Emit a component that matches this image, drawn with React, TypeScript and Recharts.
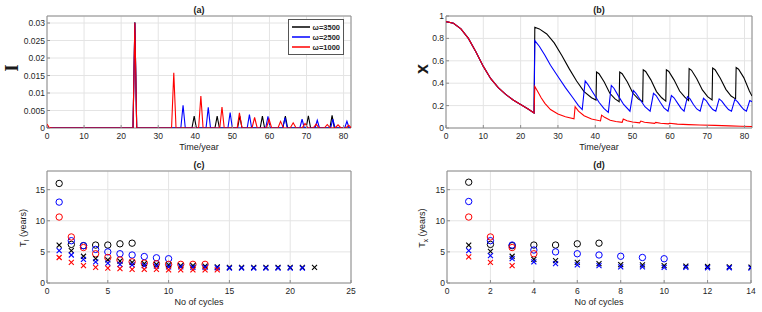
import { LineChart, Line, ScatterChart, Scatter, XAxis, YAxis, CartesianGrid, ReferenceArea, Legend } from 'recharts';

// (a) I(t): [time, value] points
const iBlack = [
  [0, 0], [23.2, 0], [23.7, 0.0302], [24.2, 0], [39.1, 0], [39.7, 0.0034], [40.3, 0],
  [45.3, 0], [45.9, 0.0034], [46.5, 0], [51.4, 0], [52.0, 0.0034], [52.6, 0],
  [57.5, 0], [58.1, 0.0034], [58.7, 0], [63.6, 0], [64.3, 0.0034], [64.9, 0],
  [69.9, 0], [70.5, 0.0035], [71.1, 0], [76.3, 0], [76.9, 0.0036], [77.5, 0], [82, 0],
];
const iBlue = [
  [0, 0], [23.2, 0], [23.7, 0.0301], [24.2, 0], [36.1, 0], [36.7, 0.0065], [37.3, 0],
  [42.9, 0], [43.5, 0.0059], [44.1, 0], [48.8, 0], [49.4, 0.0044], [50.0, 0],
  [54.0, 0], [54.6, 0.0038], [55.2, 0], [59.0, 0], [59.6, 0.0033], [60.2, 0],
  [63.6, 0], [64.2, 0.003], [64.8, 0], [68.2, 0], [68.8, 0.0025], [69.4, 0],
  [72.3, 0], [72.9, 0.0022], [73.5, 0], [76.5, 0], [77.1, 0.0025], [77.7, 0],
  [80.3, 0], [80.9, 0.0019], [81.5, 0], [82, 0],
];
const iRed = [
  [0, 0.0011], [0.6, 0.0001], [1.5, 0], [23.2, 0], [23.7, 0.0301], [24.2, 0],
  [33.6, 0], [34.2, 0.0158], [34.8, 0], [40.9, 0], [41.5, 0.0091], [42.1, 0],
  [46.6, 0], [47.2, 0.006], [47.8, 0], [51.3, 0], [51.9, 0.0043], [52.6, 0],
  [55.3, 0], [56.0, 0.003], [56.7, 0], [59.2, 0], [59.9, 0.0025], [60.6, 0],
  [62.3, 0], [63.0, 0.0019], [63.8, 0], [65.6, 0], [66.4, 0.0015], [67.2, 0],
  [68.8, 0], [69.6, 0.0013], [70.4, 0], [71.8, 0], [72.6, 0.0011], [73.4, 0],
  [74.8, 0], [75.6, 0.001], [76.4, 0], [77.7, 0], [78.5, 0.0009], [79.3, 0],
  [80.6, 0], [81.4, 0.0008], [82, 0.0001],
];

// (b) x(t): common decline before the first outbreak, then one tail per omega
const xStart = [
  [0, 0.95], [2, 0.935], [4, 0.885], [6, 0.8], [8, 0.68], [10, 0.55], [12, 0.44],
  [14, 0.36], [16, 0.3], [18, 0.25], [20, 0.21], [22, 0.17], [23.6, 0.135],
];
const xBlackTail = [
  [23.8, 0.9], [25, 0.885], [27, 0.84], [29, 0.76], [31, 0.65], [33, 0.53], [35, 0.42],
  [37, 0.325], [39, 0.27], [40.2, 0.25],
  [40.35, 0.5], [41, 0.485], [42.4, 0.41], [43.9, 0.31], [45.3, 0.26], [46.4, 0.235],
  [46.55, 0.5], [47.2, 0.485], [48.6, 0.41], [50.1, 0.31], [51.5, 0.26], [52.7, 0.235],
  [52.85, 0.52], [53.5, 0.505], [54.9, 0.43], [56.4, 0.325], [57.8, 0.27], [58.9, 0.24],
  [59.05, 0.52], [59.7, 0.505], [61.1, 0.43], [62.6, 0.33], [64.0, 0.275], [65.0, 0.245],
  [65.15, 0.53], [65.8, 0.515], [67.2, 0.44], [68.7, 0.34], [70.1, 0.28], [71.3, 0.25],
  [71.45, 0.535], [72.1, 0.52], [73.5, 0.445], [75.0, 0.345], [76.4, 0.285], [77.6, 0.26],
  [77.75, 0.54], [78.4, 0.525], [79.8, 0.45], [81.3, 0.33], [82, 0.285],
];
const xBlueTail = [
  [23.8, 0.78], [25, 0.73], [26.5, 0.65], [28, 0.56], [30, 0.46], [32, 0.36], [34, 0.27],
  [35.5, 0.2], [36.5, 0.165],
  [37.3, 0.42], [38, 0.39], [39.5, 0.31], [41, 0.23], [42.3, 0.175], [43.5, 0.14],
  [44.3, 0.38], [45, 0.355], [46.3, 0.28], [47.6, 0.21], [49.3, 0.15],
  [50.2, 0.335], [50.9, 0.31], [52.1, 0.25], [53.3, 0.19], [54.7, 0.15],
  [55.6, 0.31], [56.3, 0.29], [57.4, 0.23], [58.4, 0.18], [59.5, 0.15],
  [60.4, 0.29], [61.1, 0.27], [62.1, 0.22], [63, 0.175], [63.8, 0.15],
  [64.7, 0.28], [65.4, 0.26], [66.3, 0.21], [67.2, 0.17], [68.1, 0.15],
  [69.0, 0.265], [69.7, 0.245], [70.6, 0.2], [71.5, 0.165], [72.3, 0.15],
  [73.2, 0.26], [73.9, 0.24], [74.8, 0.2], [75.7, 0.165], [76.5, 0.15],
  [77.4, 0.255], [78.1, 0.235], [79, 0.195], [79.8, 0.165], [80.5, 0.15],
  [81.4, 0.245], [82, 0.235],
];
const xRedTail = [
  [23.8, 0.37], [24.5, 0.33], [25.5, 0.27], [26.5, 0.22], [28, 0.165], [30, 0.125],
  [32, 0.1], [34.3, 0.082],
  [34.6, 0.19], [35.5, 0.15], [37, 0.11], [39, 0.08], [41.4, 0.063],
  [41.7, 0.115], [42.5, 0.095], [44, 0.07], [45.5, 0.058], [47.2, 0.05],
  [47.5, 0.08], [48.5, 0.065], [50, 0.053], [51.9, 0.046],
  [52.2, 0.062], [53.2, 0.052], [55.9, 0.041],
  [56.2, 0.05], [57.5, 0.043], [59.6, 0.037],
  [59.9, 0.042], [62, 0.035], [65, 0.03], [68, 0.027], [72, 0.023], [76, 0.019],
  [79, 0.016], [82, 0.014],
];

// (c) T_I per cycle, (d) T_x per cycle — O = circles, X = crosses
const tiBlackO = [16.0, 6.2, 6.0, 6.1, 6.1, 6.3, 6.4];
const tiBlueO = [13.0, 6.8, 6.0, 5.4, 5.0, 4.7, 4.5, 4.25, 4.05, 3.9];
const tiRedO = [10.6, 7.4, 5.7, 4.7, 4.1, 3.7, 3.4, 3.2, 3.1, 3.0, 3.0, 3.0, 3.0];
const tiBlackX = [6.1, 5.2, 4.3, 3.9, 3.7, 3.5, 3.3, 3.1, 3.0, 2.9, 2.8, 2.8, 2.7, 2.6, 2.5, 2.5, 2.5, 2.5, 2.5, 2.5, 2.5, 2.5];
const tiBlueX = [5.2, 4.5, 3.8, 3.4, 3.2, 3.0, 2.9, 2.8, 2.7, 2.6, 2.6, 2.5, 2.5, 2.45, 2.4, 2.4, 2.4, 2.4, 2.4, 2.4, 2.4];
const tiRedX = [4.1, 3.3, 2.8, 2.5, 2.4, 2.3, 2.2, 2.2, 2.2, 2.1, 2.1, 2.1, 2.1, 2.1];

const txBlackO = [16.2, 6.2, 6.0, 6.1, 6.1, 6.3, 6.4];
const txBlueO = [13.1, 6.8, 6.1, 5.3, 5.0, 4.7, 4.5, 4.3, 4.1, 3.9];
const txRedO = [10.6, 7.4, 5.7, 4.7];
const txBlackX = [6.1, 5.1, 4.3, 3.8, 3.6, 3.3, 3.1, 2.95, 2.9, 2.8, 2.7, 2.65, 2.6, 2.55];
const txBlueX = [5.2, 4.4, 3.9, 3.4, 3.1, 2.9, 2.8, 2.6, 2.6, 2.5, 2.5, 2.45, 2.45, 2.4];
const txRedX = [4.2, 3.3, 2.8];

const omegaLabels = ['ω=3500', 'ω=2500', 'ω=1000'];
const colors = ['#000000', '#0000ff', '#ff0000'];

const timeTicks = [0, 10, 20, 30, 40, 50, 60, 70, 80];
const iTicks = [0, 0.005, 0.01, 0.015, 0.02, 0.025, 0.03];
const xTicks = [0, 0.2, 0.4, 0.6, 0.8, 1];
const cycleTicksC = [0, 5, 10, 15, 20, 25];
const cycleTicksD = [0, 2, 4, 6, 8, 10, 12, 14];
const periodTicks = [0, 5, 10, 15];

const FONT = '"Liberation Sans", Arial, Helvetica, sans-serif';
const tickStyle = { fontSize: 8.5, fill: '#1f1f1f', fontFamily: FONT };
const gridColor = '#e4e4e4';
const boxColor = '#8c8c8c';

const pts = (pairs: number[][]) => pairs.map(([t, v]) => ({ t, v }));
const perCycle = (vals: number[]) => vals.map((v, i) => ({ n: i + 1, v }));

const ring = (color: string) => (p: any) => (
  <circle cx={p.cx} cy={p.cy} r={3.2} fill="none" stroke={color} strokeWidth={1} />
);
const cross = (color: string) => (p: any) => (
  <g stroke={color} strokeWidth={1.1}>
    <line x1={p.cx - 2.5} y1={p.cy - 2.5} x2={p.cx + 2.5} y2={p.cy + 2.5} />
    <line x1={p.cx - 2.5} y1={p.cy + 2.5} x2={p.cx + 2.5} y2={p.cy - 2.5} />
  </g>
);

const xAxisProps = {
  type: 'number' as const,
  tickLine: { stroke: boxColor },
  axisLine: false,
  tick: tickStyle,
  tickSize: -3,
  tickMargin: 8,
  interval: 0 as const,
  allowDataOverflow: true,
};
const yAxisProps = {
  type: 'number' as const,
  tickLine: { stroke: boxColor },
  axisLine: false,
  tick: tickStyle,
  tickSize: -3,
  tickMargin: 5,
  interval: 0 as const,
  allowDataOverflow: true,
};

function OmegaLegend() {
  return (
    <div style={{ border: '1px solid #555', background: '#fff', padding: '2px 3px', fontFamily: FONT }}>
      {omegaLabels.map((label, k) => (
        <div key={label} style={{ display: 'flex', alignItems: 'center', height: 10 }}>
          <svg width={21} height={4} style={{ display: 'block' }}>
            <line x1={0} y1={2} x2={21} y2={2} stroke={colors[k]} strokeWidth={1.5} />
          </svg>
          <span style={{ marginLeft: 3, fontSize: 7.5, fontWeight: 'bold', color: '#262626' }}>{label}</span>
        </div>
      ))}
    </div>
  );
}

function Text({ x, y, children, size = 9, bold = false, rotate = false, family = FONT }: any) {
  return (
    <div
      style={{
        position: 'absolute', left: x, top: y, whiteSpace: 'nowrap', fontFamily: family,
        fontSize: size, fontWeight: bold ? 'bold' : 'normal', color: '#1a1a1a', lineHeight: 1,
        transform: `translate(-50%, -50%)${rotate ? ' rotate(-90deg)' : ''}`,
      }}
    >
      {children}
    </div>
  );
}

export default function App() {
  const xBlack = pts([...xStart, ...xBlackTail]);
  const xBlue = pts([...xStart, ...xBlueTail]);
  const xRed = pts([...xStart, ...xRedTail]);
  const iSeries = [iBlack, iBlue, iRed];
  const xSeries = [xBlack, xBlue, xRed];

  return (
    <div style={{ position: 'relative', width: 762, height: 312, background: '#fff', overflow: 'hidden' }}>
      <style>{'body{margin:0}'}</style>

      <div style={{ position: 'absolute', left: 0, top: 0 }}>
        <LineChart width={381} height={150} margin={{ top: 16, right: 30, bottom: 0, left: 0 }}>
          <CartesianGrid stroke={gridColor} />
          <XAxis {...xAxisProps} dataKey="t" domain={[0, 82]} ticks={timeTicks} height={22} />
          <YAxis {...yAxisProps} dataKey="v" domain={[0, 0.032]} ticks={iTicks} width={47} />
          <ReferenceArea x1={0} x2={82} y1={0} y2={0.032} fill="none" stroke={boxColor} />
          {iSeries.map((s, k) => (
            <Line key={k} data={pts(s)} dataKey="v" name={omegaLabels[k]} stroke={colors[k]} strokeWidth={1.1}
              dot={false} activeDot={false} isAnimationActive={false} type="linear" />
          ))}
          <Legend layout="vertical" align="center" verticalAlign="middle" content={OmegaLegend}
            wrapperStyle={{ left: 288, top: 19, width: 56, height: 'auto', right: 'auto', bottom: 'auto' }} />
        </LineChart>
      </div>

      <div style={{ position: 'absolute', left: 381, top: 0 }}>
        <LineChart width={381} height={150} margin={{ top: 16, right: 10, bottom: 0, left: 0 }}>
          <CartesianGrid stroke={gridColor} />
          <XAxis {...xAxisProps} dataKey="t" domain={[0, 82]} ticks={timeTicks} height={22} />
          <YAxis {...yAxisProps} dataKey="v" domain={[0, 1]} ticks={xTicks} width={65} />
          <ReferenceArea x1={0} x2={82} y1={0} y2={1} fill="none" stroke={boxColor} />
          {xSeries.map((s, k) => (
            <Line key={k} data={s} dataKey="v" name={omegaLabels[k]} stroke={colors[k]} strokeWidth={1.1}
              dot={false} activeDot={false} isAnimationActive={false} type="linear" />
          ))}
        </LineChart>
      </div>

      <div style={{ position: 'absolute', left: 0, top: 150 }}>
        <ScatterChart width={381} height={162} margin={{ top: 21, right: 30, bottom: 0, left: 0 }}>
          <CartesianGrid stroke={gridColor} />
          <XAxis {...xAxisProps} dataKey="n" domain={[0, 25]} ticks={cycleTicksC} height={29} />
          <YAxis {...yAxisProps} dataKey="v" domain={[0, 18]} ticks={periodTicks} width={47} />
          <ReferenceArea x1={0} x2={25} y1={0} y2={18} fill="none" stroke={boxColor} />
          <Scatter data={perCycle(tiBlackO)} shape={ring(colors[0])} isAnimationActive={false} />
          <Scatter data={perCycle(tiBlueO)} shape={ring(colors[1])} isAnimationActive={false} />
          <Scatter data={perCycle(tiRedO)} shape={ring(colors[2])} isAnimationActive={false} />
          <Scatter data={perCycle(tiBlackX)} shape={cross(colors[0])} isAnimationActive={false} />
          <Scatter data={perCycle(tiBlueX)} shape={cross(colors[1])} isAnimationActive={false} />
          <Scatter data={perCycle(tiRedX)} shape={cross(colors[2])} isAnimationActive={false} />
        </ScatterChart>
      </div>

      <div style={{ position: 'absolute', left: 381, top: 150 }}>
        <ScatterChart width={381} height={162} margin={{ top: 21, right: 11, bottom: 0, left: 0 }}>
          <CartesianGrid stroke={gridColor} />
          <XAxis {...xAxisProps} dataKey="n" domain={[0, 14]} ticks={cycleTicksD} height={29} />
          <YAxis {...yAxisProps} dataKey="v" domain={[0, 18]} ticks={periodTicks} width={66} />
          <ReferenceArea x1={0} x2={14} y1={0} y2={18} fill="none" stroke={boxColor} />
          <Scatter data={perCycle(txBlackO)} shape={ring(colors[0])} isAnimationActive={false} />
          <Scatter data={perCycle(txBlueO)} shape={ring(colors[1])} isAnimationActive={false} />
          <Scatter data={perCycle(txRedO)} shape={ring(colors[2])} isAnimationActive={false} />
          <Scatter data={perCycle(txBlackX)} shape={cross(colors[0])} isAnimationActive={false} />
          <Scatter data={perCycle(txBlueX)} shape={cross(colors[1])} isAnimationActive={false} />
          <Scatter data={perCycle(txRedX)} shape={cross(colors[2])} isAnimationActive={false} />
        </ScatterChart>
      </div>

      <Text x={199} y={10} bold>(a)</Text>
      <Text x={599} y={10} bold>(b)</Text>
      <Text x={199} y={165} bold>(c)</Text>
      <Text x={599} y={165} bold>(d)</Text>
      <Text x={199} y={147}>Time/year</Text>
      <Text x={599} y={147}>Time/year</Text>
      <Text x={199} y={302}>No of cycles</Text>
      <Text x={599} y={302}>No of cycles</Text>
      <Text x={12} y={68} size={18} bold rotate family='"Liberation Serif", "Times New Roman", serif'>I</Text>
      <Text x={422} y={69} size={18} bold rotate>x</Text>
      <Text x={25} y={228} rotate>T<sub style={{ fontSize: 6.5 }}>I</sub> (years)</Text>
      <Text x={424} y={228} rotate>T<sub style={{ fontSize: 6.5 }}>x</sub> (years)</Text>
    </div>
  );
}
